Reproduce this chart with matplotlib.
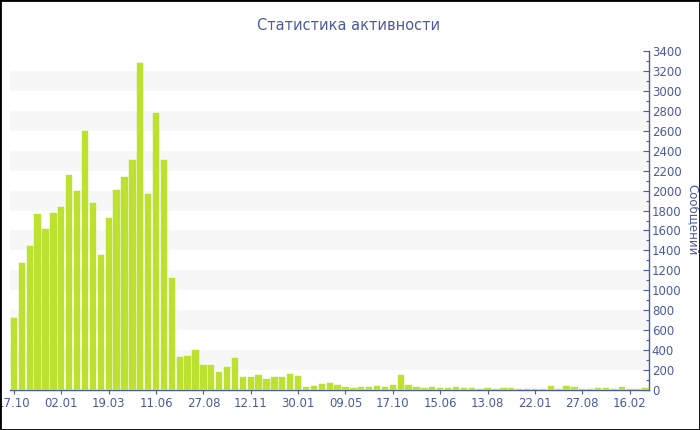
import matplotlib
matplotlib.use("Agg")
import matplotlib.pyplot as plt
from matplotlib.patches import Rectangle
from matplotlib.ticker import MultipleLocator, FixedLocator

values = [725, 1277, 1441, 1762, 1618, 1772, 1835, 2160, 2000, 2594,
          1876, 1354, 1729, 2006, 2137, 2304, 3283, 1963, 2778, 2304,
          1120, 331, 341, 398, 251, 251, 181, 231, 318, 127,
          127, 150, 107, 127, 127, 160, 144, 30, 43, 57,
          74, 50, 27, 23, 33, 33, 37, 30, 47, 150,
          53, 30, 17, 27, 20, 23, 27, 23, 17, 13,
          20, 13, 22, 20, 13, 13, 13, 10, 37, 13,
          37, 33, 13, 13, 23, 17, 13, 27, 10, 10,
          17]
tick_labels = ["17.10", "02.01", "19.03", "11.06", "27.08", "12.11", "30.01",
               "09.05", "17.10", "15.06", "13.08", "22.01", "27.08", "16.02"]
tick_step = 6

title = "Статистика активности"
ylabel = "Сообщений"

blue = "#4a5a9e"
bar_color = "#bce130"

fig = plt.figure(figsize=(7.0, 4.3), dpi=100)
ax = fig.add_axes([10/700, 40/430, 639/700, 339/430])

x = list(range(len(values)))
ax.bar(x, values, width=0.8, color=bar_color, edgecolor=bar_color, linewidth=0.3, zorder=3)

# alternating bands
for lo in range(200, 3400, 400):
    ax.axhspan(lo, lo + 200, color="#f7f7f7", zorder=0, lw=0)

ax.set_xlim(-0.5, 80.45)
ax.set_ylim(0, 3400)

ax.yaxis.tick_right()
ax.yaxis.set_major_locator(MultipleLocator(200))
ax.yaxis.set_minor_locator(MultipleLocator(100))
ax.tick_params(axis="y", which="major", direction="in", length=4, pad=2,
               color=blue, labelcolor=blue, labelsize=8.5, width=0.8)
ax.tick_params(axis="y", which="minor", direction="in", length=2.5,
               color=blue, width=0.8)

ax.xaxis.set_major_locator(FixedLocator(list(range(0, len(values), tick_step))))
ax.set_xticklabels(tick_labels)
ax.tick_params(axis="x", which="major", direction="out", length=3, pad=2,
               color=blue, labelcolor=blue, labelsize=8.5, width=0.8)

for s in ["left", "top"]:
    ax.spines[s].set_visible(False)
for s in ["right", "bottom"]:
    ax.spines[s].set_color(blue)
    ax.spines[s].set_linewidth(1.0)

fig.text(349/700, 1 - 25/430, title, ha="center", va="center", color=blue, fontsize=10.5)
fig.text(693/700, 1 - 220/430, ylabel, ha="center", va="center", rotation=270,
         color=blue, fontsize=8.5)

fig.patches.append(Rectangle((0, 0), 1, 1, transform=fig.transFigure, fill=False,
                             edgecolor="black", linewidth=2, zorder=10))

fig.savefig("out.png", dpi=100)
